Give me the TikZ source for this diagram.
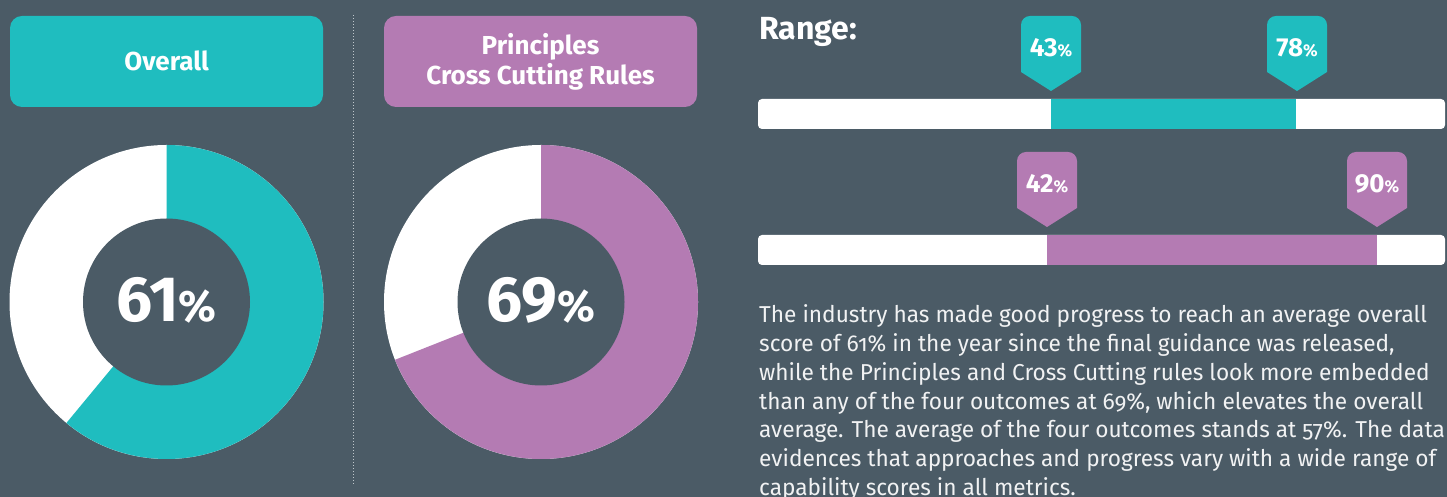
\documentclass[tikz,border=0pt]{standalone}
\usepackage{fontspec}
\setmainfont{Fira Sans}
\newfontfamily\bodyfont{Fira Sans}[Numbers=OldStyle, FakeStretch=0.985]

\definecolor{slate}{RGB}{75,91,102}
\definecolor{tealc}{RGB}{31,189,191}
\definecolor{mauve}{RGB}{180,123,179}
\definecolor{dotgrey}{RGB}{190,198,203}

\tikzset{
  headbox/.style={rounded corners=12pt, minimum width=313pt, minimum height=91pt, inner sep=0pt,
    text=white, align=center, font=\bfseries\fontsize{26}{30}\selectfont},
  ringlabel/.style={inner sep=0pt, text=white, font=\bfseries\fontsize{64}{64}\selectfont},
  taglabel/.style={inner sep=0pt, text=white, font=\bfseries\fontsize{26}{26}\selectfont},
}
\newcommand{\pct}[1]{{\fontsize{#1}{#1}\selectfont\%}}
% x of tip, top of tag, colour, node name, label
\newcommand{\rangetag}[5]{%
  \fill[#3] (#1,#2-75) -- (#1-30,#2-56) [rounded corners=9pt] -- (#1-30,#2) -- (#1+30,#2) [sharp corners] -- (#1+30,#2-56) -- cycle;
  \node[taglabel] (#4) at (#1,#2-32) {#5};
}

\begin{document}
\begin{tikzpicture}[x=1pt, y=1pt]
        \useasboundingbox (0,0) rectangle (1447,497);
        \clip (0,0) rectangle (1447,497);
        \fill [slate] (0,0) rectangle (1447,497);

        % headers
        \node [headbox, fill=tealc] (hdoverall) at (166.5,435.5) {\raisebox{1.5pt}{Overall}};
        \node [headbox, fill=mauve] (hdprinc) at (540.5,435.5) {Principles\\Cross Cutting Rules};
        \draw [dotgrey, line width=1pt, dash pattern=on 1pt off 2pt] (353,482) -- (353,12);

        % rings
        \fill [white] (166.5,195) circle (157);
        \fill [tealc] (166.5,195) -- ++(90:157) arc (90:-129.6:157) -- cycle;
        \fill [slate] (166.5,195) circle (83.5);
        \node [ringlabel] (pctoverall) at (166.5,197) {61\pct{44}};

        \fill [white] (541,195) circle (157);
        \fill [mauve] (541,195) -- ++(90:157) arc (90:-158.4:157) -- cycle;
        \fill [slate] (541,195) circle (83.5);
        \node [ringlabel] (pctprinc) at (541,197) {69\pct{44}};

        % range bars
        \node [anchor=base west, inner sep=0pt, text=white, font=\bfseries\fontsize{32}{32}\selectfont] (range) at (759,457) {Range:};

        \fill [white, rounded corners=4pt] (758,368) rectangle (1445,398);
        \fill [tealc] (1051,368) rectangle (1296,398);
        \rangetag{1051}{481}{tealc}{lowoverall}{43\pct{17}}
        \rangetag{1297}{481}{tealc}{highoverall}{78\pct{17}}

        \fill [white, rounded corners=4pt] (758,232) rectangle (1445,262);
        \fill [mauve] (1047,232) rectangle (1377,262);
        \rangetag{1047}{345}{mauve}{lowprinc}{42\pct{17}}
        \rangetag{1377}{345}{mauve}{highprinc}{90\pct{17}}

        \node [anchor=north west, inner sep=0pt, align=left, text=white!92!slate, font=\bodyfont\fontsize{23}{28.8}\selectfont] (summary) at (759,192.5)
        {The industry has made good progress to reach an average overall\\
        score of 61\% in the year since the final guidance was released,\\
        while the Principles and Cross Cutting rules look more embedded\\
        than any of the four outcomes at 69\%, which elevates the overall\\
        average. The average of the four outcomes stands at 57\%. The data\\
        evidences that approaches and progress vary with a wide range of\\
        capability scores in all metrics.};
\end{tikzpicture}
\end{document}
